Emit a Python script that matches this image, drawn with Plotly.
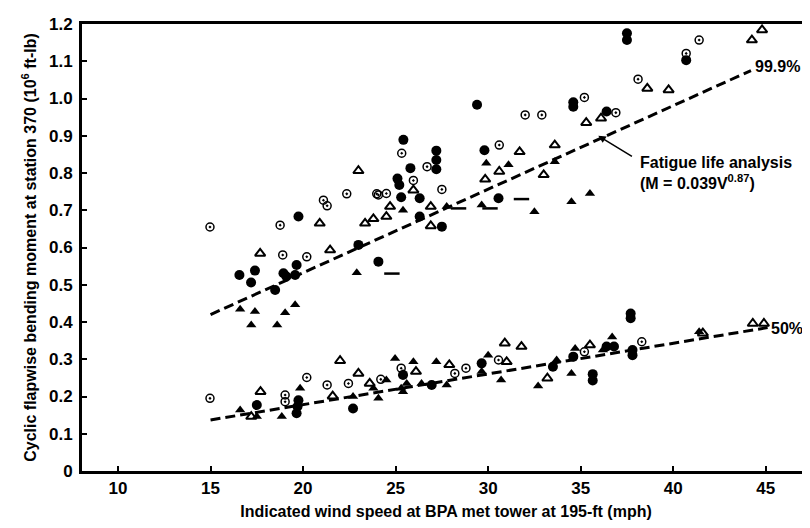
"""
Cyclic flapwise bending moment versus indicated wind speed.

Scatter of measured bending moments at station 370 with the 99.9% and 50%
fatigue fit lines, redrawn from a scanned report figure.
"""

import plotly.graph_objects as go


# Filled circles
filled_circle_x = [16.56, 17.4, 17.19, 18.94, 19.1, 19.65, 19.57, 18.49, 19.75, 22.99,
                   24.07, 25.42, 27.2, 27.2, 27.2, 25.8, 25.2, 25.1, 25.3, 26.3, 26.3,
                   27.5, 29.4, 29.8, 30.56, 34.6, 34.6, 36.4, 37.5, 37.5, 40.7,
                   17.5, 19.65, 19.75, 19.7, 22.7, 25.4, 26.95, 29.65, 33.5, 34.6,
                   35.65, 35.65, 36.8, 37.7, 37.7, 37.8, 37.8, 36.4]
filled_circle_y = [0.526, 0.538, 0.506, 0.531, 0.522, 0.553, 0.526, 0.486, 0.683, 0.607,
                   0.562, 0.889, 0.86, 0.835, 0.81, 0.813, 0.768, 0.785, 0.735, 0.732, 0.683,
                   0.656, 0.983, 0.861, 0.732, 0.978, 0.99, 0.965, 1.175, 1.157, 1.103,
                   0.177, 0.155, 0.19, 0.173, 0.168, 0.258, 0.231, 0.289, 0.28, 0.307,
                   0.26, 0.243, 0.334, 0.423, 0.41, 0.325, 0.311, 0.334]

# Open triangles
open_tri_x = [22.99, 20.9, 23.35, 23.8, 17.68, 21.46, 25.96, 24.5, 26.9, 26.9, 29.84,
              30.6, 31.7, 33.6, 33.0, 35.3, 36.1, 38.6, 39.75, 44.25, 44.8, 24.7,
              22.0, 17.7, 22.99, 21.6, 17.2, 23.6, 26.1, 27.9, 30.9, 31.8, 31.0,
              33.2, 35.5, 41.6, 44.3, 44.9]
open_tri_y = [0.806, 0.665, 0.665, 0.677, 0.584, 0.593, 0.754, 0.683, 0.71, 0.658, 0.783,
              0.804, 0.857, 0.875, 0.795, 0.935, 0.947, 1.027, 1.023, 1.157, 1.184, 0.71,
              0.296, 0.213, 0.262, 0.201, 0.146, 0.235, 0.267, 0.285, 0.343, 0.334, 0.293,
              0.249, 0.338, 0.37, 0.396, 0.396]

# Filled triangles
filled_tri_x = [22.9, 16.6, 17.4, 19.03, 19.57, 17.2, 18.6, 25.4, 27.76, 29.9, 31.1,
                33.6, 29.65, 32.5, 34.5, 35.5,
                16.6, 17.5, 18.85, 19.84, 22.7, 24.07, 24.5, 24.97, 25.3, 23.8, 25.96,
                25.4, 25.6, 25.4, 26.4, 27.2, 27.76, 30.0, 29.65, 30.7, 32.7, 33.7,
                34.5, 34.7, 36.7, 36.2, 41.4]
filled_tri_y = [0.532, 0.434, 0.428, 0.425, 0.446, 0.392, 0.392, 0.70, 0.71, 0.826, 0.822,
                0.83, 0.714, 0.696, 0.723, 0.745,
                0.164, 0.146, 0.146, 0.222, 0.2, 0.195, 0.244, 0.302, 0.222, 0.222, 0.293,
                0.262, 0.235, 0.213, 0.235, 0.293, 0.231, 0.311, 0.267, 0.244, 0.228, 0.298,
                0.262, 0.329, 0.36, 0.325, 0.374]

# Open circles with centre dot
dot_circle_x = [14.97, 22.36, 23.98, 21.1, 21.3, 18.76, 18.9, 20.2, 32.0, 32.9, 25.33,
                26.7, 25.96, 27.5, 24.07, 24.5, 30.6, 41.4, 40.7, 38.1, 35.2, 36.9,
                20.2, 14.97, 21.3, 22.45, 19.03, 19.03, 24.2, 25.3, 28.2, 28.8, 30.56,
                35.2, 38.3]
dot_circle_y = [0.655, 0.744, 0.744, 0.727, 0.712, 0.66, 0.58, 0.575, 0.956, 0.956, 0.853,
                0.817, 0.78, 0.756, 0.741, 0.745, 0.875, 1.157, 1.121, 1.052, 1.003, 0.962,
                0.251, 0.195, 0.231, 0.235, 0.204, 0.186, 0.246, 0.276, 0.262, 0.276, 0.298,
                0.32, 0.347]

# Short horizontal dashes among the upper points
dash_x = [24.8, 28.4, 30.1, 31.8]
dash_y = [0.53, 0.705, 0.705, 0.73]

# Fit lines
fit_999_x = [15.0, 44.2]
fit_999_y = [0.42, 1.075]
fit_50_x = [15.0, 45.1]
fit_50_y = [0.137, 0.385]

x_ticks = [10, 15, 20, 25, 30, 35, 40, 45]
y_ticks = [0, 0.1, 0.2, 0.3, 0.4, 0.5, 0.6, 0.7, 0.8, 0.9, 1.0, 1.1, 1.2]
y_tick_text = ["0", "0.1", "0.2", "0.3", "0.4", "0.5", "0.6", "0.7", "0.8", "0.9",
               "1.0", "1.1", "1.2"]


def create_figure() -> go.Figure:
    """Build the bending moment scatter figure."""
    font_family = "Liberation Sans, Arial, sans-serif"

    fig = go.Figure()

    # Fit lines first so markers sit on top
    for fx, fy in [(fit_999_x, fit_999_y), (fit_50_x, fit_50_y)]:
        fig.add_trace(go.Scatter(
            x=fx, y=fy, mode='lines',
            line=dict(color='black', width=3, dash='10px,5px'),
            hoverinfo='none'
        ))

    fig.add_trace(go.Scatter(
        x=filled_circle_x, y=filled_circle_y, mode='markers',
        marker=dict(symbol='circle', size=10, color='black')
    ))
    fig.add_trace(go.Scatter(
        x=filled_tri_x, y=filled_tri_y, mode='markers',
        marker=dict(symbol='triangle-up', size=9, color='black')
    ))
    fig.add_trace(go.Scatter(
        x=open_tri_x, y=open_tri_y, mode='markers',
        marker=dict(symbol='triangle-up-open', size=9, color='black',
                    line=dict(width=2, color='black'))
    ))
    fig.add_trace(go.Scatter(
        x=dot_circle_x, y=dot_circle_y, mode='markers',
        marker=dict(symbol='circle-open-dot', size=8, color='black',
                    line=dict(width=1.5, color='black'))
    ))
    fig.add_trace(go.Scatter(
        x=dash_x, y=dash_y, mode='markers',
        marker=dict(symbol='line-ew', size=11, color='black',
                    line=dict(width=2.5, color='black'))
    ))

    label_font = dict(family=font_family, size=16, color='black')
    tick_font = dict(family=font_family, size=17, color='black', weight='bold')

    # The page adds an 8px body margin, so the figure is sized to fit inside it
    fig.update_layout(
        width=802, height=512,
        showlegend=False,
        plot_bgcolor='white',
        paper_bgcolor='white',
        margin=dict(l=74, r=0, t=16, b=49),
        font=dict(family=font_family, color='black'),
        xaxis=dict(
            range=[8.055, 47.39],
            tickvals=x_ticks,
            ticks='inside', ticklen=5, tickwidth=2, tickcolor='black',
            showgrid=False, zeroline=False,
            showline=True, linewidth=3, linecolor='black', mirror=True,
            tickfont=tick_font,
            title=dict(
                text="<b>Indicated wind speed at BPA met tower at 195-ft (mph)</b>",
                font=dict(family=font_family, size=16, color='black'),
                standoff=9
            )
        ),
        yaxis=dict(
            range=[0, 1.2],
            tickvals=y_ticks, ticktext=y_tick_text,
            ticks='inside', ticklen=5, tickwidth=2, tickcolor='black',
            ticklabelstandoff=3,
            showgrid=False, zeroline=False,
            showline=True, linewidth=3, linecolor='black',
            tickfont=tick_font,
            title=dict(
                text="<b>Cyclic flapwise bending moment at station 370 (10<sup>6</sup> ft-lb)</b>",
                font=dict(family=font_family, size=16, color='black'),
                standoff=9
            )
        ),
        annotations=[
            dict(x=44.3, y=1.085, xref='x', yref='y', text="<b>99.9%</b>",
                 showarrow=False, xanchor='left', yanchor='middle', font=label_font),
            dict(x=45.2, y=0.382, xref='x', yref='y', text="<b>50%</b>",
                 showarrow=False, xanchor='left', yanchor='middle', font=label_font),
            dict(x=35.95, y=0.9, xref='x', yref='y',
                 ax=37.85, ay=0.842, axref='x', ayref='y',
                 text="", showarrow=True, arrowhead=2, arrowsize=1,
                 arrowwidth=1.5, arrowcolor='black'),
            dict(x=38.1, y=0.80, xref='x', yref='y',
                 text="<b>Fatigue life analysis<br>(M = 0.039V<sup>0.87</sup>)</b>",
                 showarrow=False, xanchor='left', yanchor='middle', align='left',
                 font=dict(family=font_family, size=16, color='black'))
        ]
    )

    return fig


if __name__ == "__main__":
    fig = create_figure()
    fig.write_html("out.html")
